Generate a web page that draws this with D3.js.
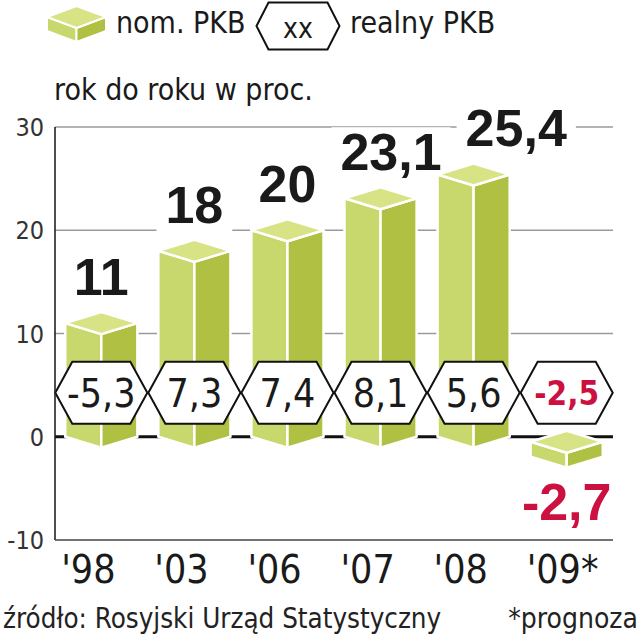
<!DOCTYPE html>
<html>
<head>
<meta charset="utf-8">
<script src="https://cdn.jsdelivr.net/npm/d3@7"></script>
<style>
  html, body { margin: 0; padding: 0; background: #fff; }
  svg { display: block; }
  .cond { font-family: "DejaVu Sans Condensed", "DejaVu Sans", sans-serif; font-stretch: condensed; }
  .bold { font-family: "Liberation Sans", Arial, sans-serif; font-weight: bold; }
</style>
</head>
<body>
<svg id="chart" width="640" height="640"></svg>
<script>
// ---- data ----
const years = ["'98", "'03", "'06", "'07", "'08", "'09*"];
const nominal = [11, 18, 20, 23.1, 25.4, -2.7];
const real = [-5.3, 7.3, 7.4, 8.1, 5.6, -2.5];
const yTicks = [30, 20, 10, 0, -10];
const legendLabels = ["nom. PKB", "xx", "realny PKB"];
const subtitle = "rok do roku w proc.";
const source = "źródło: Rosyjski Urząd Statystyczny";
const note = "*prognoza";

// ---- layout ----
const pLeft = 55, pRight = 613, pTop = 127, pBottom = 540;
const cTop = "#d7e384", cLeft = "#c8d86c", cRight = "#afc043", red = "#cc1040";
const fmt = v => String(v).replace(".", ",");

const svg = d3.select("#chart");
const x = d3.scaleBand().domain(years).range([pLeft, pRight]).paddingInner(0.225).paddingOuter(0.11);
const y = d3.scaleLinear().domain([-10, 30]).range([pBottom, pTop]);

const data = years.map((yr, i) => ({ yr, nom: nominal[i], real: real[i] }));

// gridlines
svg.append("g").selectAll("line").data(yTicks.filter(t => t > 0)).join("line")
  .attr("x1", pLeft).attr("x2", pRight)
  .attr("y1", d => y(d)).attr("y2", d => y(d))
  .attr("stroke", "#9a9a9a").attr("stroke-width", 1.6);

// zero line
svg.append("line").attr("x1", pLeft).attr("x2", pRight)
  .attr("y1", y(0)).attr("y2", y(0))
  .attr("stroke", "#111").attr("stroke-width", 3.2);

// value labels with white knockout (below bars); shift right if colliding with previous label
const labG = svg.append("g");
let prevRight = -Infinity;
data.forEach(d => {
  const cx = x(d.yr) + x.bandwidth() / 2;
  const neg = d.nom < 0;
  const g = labG.append("g");
  const t = g.append("text").attr("class", "bold")
    .attr("x", cx).attr("y", neg ? y(d.nom) + 55 : y(d.nom) - 28)
    .attr("text-anchor", "middle").attr("font-size", 52)
    .attr("fill", neg ? red : "#1a1a1a")
    .text(fmt(d.nom));
  let bb = t.node().getBBox();
  if (!neg && bb.x < prevRight + 24) {
    t.attr("x", cx + (prevRight + 24 - bb.x));
    bb = t.node().getBBox();
  }
  if (!neg) prevRight = bb.x + bb.width;
  g.insert("rect", "text").attr("x", bb.x - 9).attr("y", bb.y + 4).attr("width", bb.width + 18).attr("height", bb.height - 4)
    .attr("fill", "#fff");
});

// boxes
const D = 11;
function boxFaces(x0, w, ytop, ybot, d) {
  const dd = d || D;
  const xm = x0 + w / 2, x1 = x0 + w;
  return [
    { c: cLeft, p: [[x0, ytop], [xm, ytop + dd], [xm, ybot + dd], [x0, ybot]] },
    { c: cRight, p: [[xm, ytop + dd], [x1, ytop], [x1, ybot], [xm, ybot + dd]] },
    { c: cTop, p: [[x0, ytop], [xm, ytop - dd], [x1, ytop], [xm, ytop + dd]] }
  ];
}
const bars = svg.append("g");
data.forEach(d => {
  const x0 = x(d.yr), w = x.bandwidth();
  let ytop, ybot;
  if (d.nom >= 0) { ytop = y(d.nom); ybot = y(0); }
  else { ytop = y(0) + 5; ybot = y(d.nom) - 8; }
  bars.append("g").selectAll("polygon").data(boxFaces(x0, w, ytop, ybot)).join("polygon")
    .attr("points", f => f.p.map(q => q.join(",")).join(" "))
    .attr("fill", f => f.c).attr("stroke", "#fff").attr("stroke-width", 2.5)
    .attr("stroke-linejoin", "round");
});

// hexagons for real GDP
const step = x.step();
const hexY = y(0) - 44, hh = 31, slant = 17;
function hexPts(cx, cy, hw, hh, s) {
  return [[cx - hw, cy], [cx - hw + s, cy - hh], [cx + hw - s, cy - hh], [cx + hw, cy], [cx + hw - s, cy + hh], [cx - hw + s, cy + hh]]
    .map(q => q.join(",")).join(" ");
}
const hexG = svg.append("g");
data.forEach(d => {
  const cx = x(d.yr) + x.bandwidth() / 2;
  hexG.append("polygon").attr("points", hexPts(cx, hexY, step / 2 - 0.5, hh, slant))
    .attr("fill", "#fff").attr("stroke", "#111").attr("stroke-width", 2);
  const neg = d.nom < 0;
  hexG.append("text").attr("class", "cond")
    .attr("x", cx).attr("y", hexY + (neg ? 12 : 14))
    .attr("text-anchor", "middle")
    .attr("font-size", neg ? 33 : 39)
    .attr("font-weight", neg ? "bold" : "normal")
    .attr("fill", neg ? red : "#1a1a1a")
    .text(fmt(d.real));
});

// axes
svg.append("line").attr("x1", pLeft).attr("x2", pLeft).attr("y1", pTop).attr("y2", pBottom)
  .attr("stroke", "#222").attr("stroke-width", 1.6);
svg.append("line").attr("x1", pLeft).attr("x2", pRight).attr("y1", pBottom).attr("y2", pBottom)
  .attr("stroke", "#444").attr("stroke-width", 1.6);

svg.append("g").selectAll("text").data(yTicks).join("text").attr("class", "cond")
  .attr("x", pLeft - 11).attr("y", d => y(d) + 9)
  .attr("text-anchor", "end").attr("font-size", 25).attr("fill", "#333")
  .text(d => d);

svg.append("g").selectAll("text").data(years).join("text").attr("class", "cond")
  .attr("x", d => x(d) - 4).attr("y", 583)
  .attr("font-size", 39).attr("fill", "#1a1a1a")
  .text(d => d);

// legend
const lg = svg.append("g");
lg.selectAll("polygon").data(boxFaces(47, 59, 17, 31, 11)).join("polygon")
  .attr("points", f => f.p.map(q => q.join(",")).join(" "))
  .attr("fill", f => f.c).attr("stroke", "#fff").attr("stroke-width", 2);
lg.append("text").attr("class", "cond").attr("x", 116).attr("y", 33).attr("font-size", 30).attr("fill", "#1a1a1a").text(legendLabels[0]);
lg.append("polygon").attr("points", hexPts(298, 26, 41.5, 23.5, 12))
  .attr("fill", "#fff").attr("stroke", "#111").attr("stroke-width", 2);
lg.append("text").attr("class", "cond").attr("x", 298).attr("y", 38).attr("text-anchor", "middle").attr("font-size", 28).attr("fill", "#1a1a1a").text(legendLabels[1]);
lg.append("text").attr("class", "cond").attr("x", 350).attr("y", 33).attr("font-size", 30).attr("fill", "#1a1a1a").text(legendLabels[2]);
lg.append("text").attr("class", "cond").attr("x", 54).attr("y", 100).attr("font-size", 30).attr("fill", "#1a1a1a").text(subtitle);

// footer
svg.append("text").attr("class", "cond").attr("x", 3).attr("y", 628).attr("font-size", 27.5).attr("fill", "#222").text(source);
svg.append("text").attr("class", "cond").attr("x", 638).attr("y", 628).attr("text-anchor", "end").attr("font-size", 28).attr("fill", "#222").text(note);
</script>
</body>
</html>
